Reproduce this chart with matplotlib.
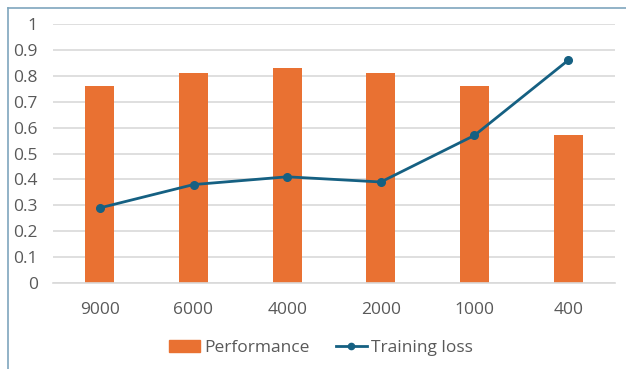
import matplotlib
matplotlib.use("Agg")
import matplotlib.pyplot as plt
from matplotlib.lines import Line2D
from matplotlib.patches import Patch
import numpy as np

categories = ["9000", "6000", "4000", "2000", "1000", "400"]
performance = [0.76, 0.81, 0.83, 0.81, 0.76, 0.57]
training_loss = [0.29, 0.38, 0.41, 0.39, 0.57, 0.86]
y_ticks = [0, 0.1, 0.2, 0.3, 0.4, 0.5, 0.6, 0.7, 0.8, 0.9, 1]
y_labels = ["0", "0.1", "0.2", "0.3", "0.4", "0.5", "0.6", "0.7", "0.8", "0.9", "1"]

orange = "#E97132"
blue = "#156082"
grid_c = "#D9D9D9"
text_c = "#595959"

plt.rcParams["font.family"] = ["Open Sans", "DejaVu Sans"]

W, H = 626, 369
fig = plt.figure(figsize=(W / 100, H / 100), dpi=100)

# chart frame (left and top edges visible)
fig.add_artist(Line2D([7.5 / W, 7.5 / W], [0, 1 - 7.5 / H], transform=fig.transFigure,
                      color="#7FA6BD", lw=1.2))
fig.add_artist(Line2D([7.5 / W, 1], [1 - 7.5 / H, 1 - 7.5 / H], transform=fig.transFigure,
                      color="#7FA6BD", lw=1.2))

left, right = 53 / W, 615 / W
bottom, top = 1 - 283 / H, 1 - 24 / H
ax = fig.add_axes([left, bottom, right - left, top - bottom])

x = np.arange(len(categories))
ax.bar(x, performance, width=0.31, color=orange, zorder=2, label="Performance")
ax.plot(x, training_loss, color=blue, lw=2.0, marker="o", markersize=5.5,
        zorder=3, label="Training loss")

ax.set_xlim(-0.5, len(categories) - 0.5)
ax.set_ylim(0, 1)
ax.set_yticks(y_ticks)
ax.set_yticklabels(y_labels)
ax.set_xticks(x)
ax.set_xticklabels(categories)
ax.yaxis.grid(True, color=grid_c, lw=1.2, zorder=0)
ax.set_axisbelow(True)
for s in ["top", "right", "left"]:
    ax.spines[s].set_visible(False)
ax.spines["bottom"].set_color(grid_c)
ax.spines["bottom"].set_linewidth(1.2)
ax.tick_params(axis="both", length=0, colors=text_c, labelsize=12.5)
ax.tick_params(axis="y", pad=11)
ax.tick_params(axis="x", pad=14)

handles = [
    Patch(color=orange),
    Line2D([0], [0], color=blue, lw=2.0, marker="o", markersize=4.5),
]
fig.legend(handles, ["Performance", "Training loss"], loc="center",
           bbox_to_anchor=(321 / W, 1 - 348 / H), ncol=2, frameon=False,
           fontsize=12.5, labelcolor=text_c, handlelength=1.8, handletextpad=0.25,
           columnspacing=1.5)

fig.savefig("out.png", dpi=100, facecolor="white")
